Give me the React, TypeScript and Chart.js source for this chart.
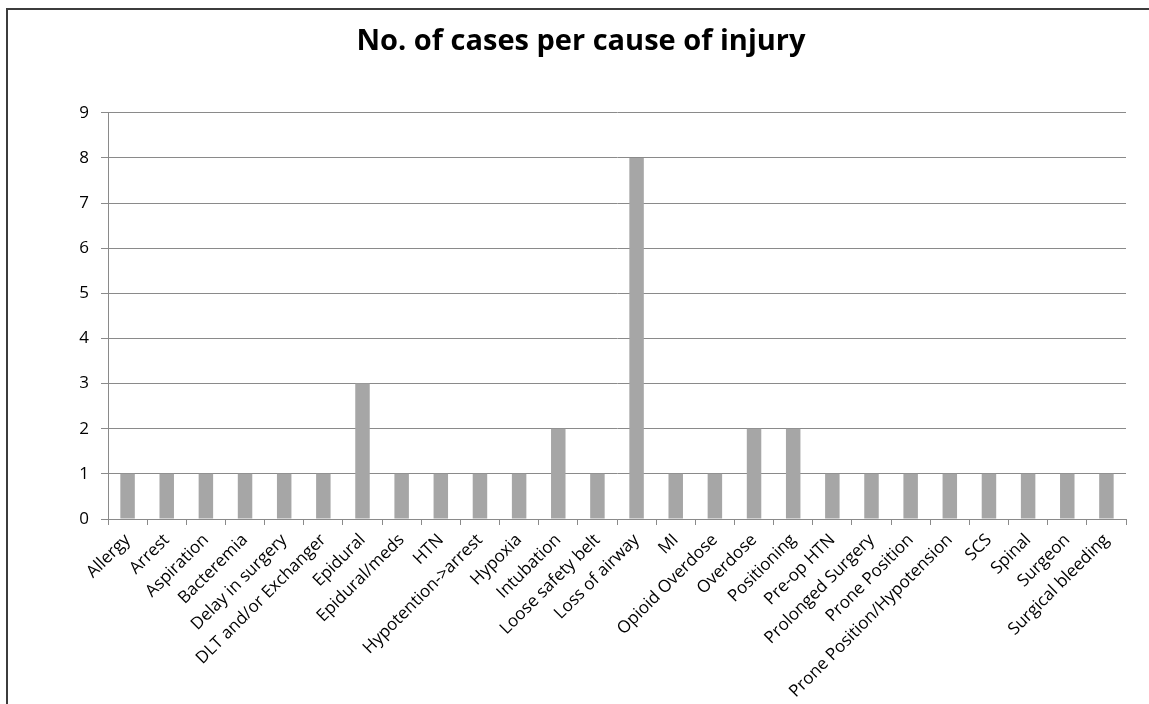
import React, { useEffect, useRef } from "react";
import { Chart, registerables } from "chart.js";

Chart.register(...registerables);

const categories: string[] = [
  "Allergy",
  "Arrest",
  "Aspiration",
  "Bacteremia",
  "Delay in surgery",
  "DLT and/or Exchanger",
  "Epidural",
  "Epidural/meds",
  "HTN",
  "Hypotention->arrest",
  "Hypoxia",
  "Intubation",
  "Loose safety belt",
  "Loss of airway",
  "MI",
  "Opioid Overdose",
  "Overdose",
  "Positioning",
  "Pre-op HTN",
  "Prolonged Surgery",
  "Prone Position",
  "Prone Position/Hypotension",
  "SCS",
  "Spinal",
  "Surgeon",
  "Surgical bleeding",
];

const cases: number[] = [1, 1, 1, 1, 1, 1, 3, 1, 1, 1, 1, 2, 1, 8, 1, 1, 2, 2, 1, 1, 1, 1, 1, 1, 1, 1];

const titleText = "No. of cases per cause of injury";
const yMin = 0;
const yMax = 9;
const yStep = 1;

const W = 1149;
const H = 704;

export default function App() {
  const ref = useRef<HTMLCanvasElement | null>(null);

  useEffect(() => {
    if (!ref.current) return;
    const font = "'Open Sans', 'DejaVu Sans', sans-serif";
    const chart = new Chart(ref.current, {
      type: "bar",
      data: {
        labels: categories,
        datasets: [
          {
            label: "Cases",
            data: cases,
            backgroundColor: "#a6a6a6",
            borderWidth: 0,
            barPercentage: 0.37,
            categoryPercentage: 1,
          },
        ],
      },
      options: {
        animation: false,
        responsive: false,
        layout: { padding: { left: 36, right: 23, top: 0, bottom: 0 } },
        plugins: {
          legend: { display: false },
          tooltip: { enabled: false },
          title: {
            display: true,
            text: titleText,
            color: "#000000",
            font: { family: font, size: 29, weight: "bold" },
            padding: { top: 24, bottom: 54 },
          },
        },
        scales: {
          x: {
            grid: {
              display: true,
              drawOnChartArea: false,
              drawTicks: true,
              tickLength: 6,
              color: "#8a8a8a",
              offset: true,
            },
            border: { display: true, color: "#8a8a8a", width: 1 },
            ticks: {
              color: "#000000",
              font: { family: font, size: 17 },
              minRotation: 45,
              maxRotation: 45,
              autoSkip: false,
              padding: 5,
            },
            afterFit: (scale: any) => {
              scale.height = 185;
            },
          },
          y: {
            min: yMin,
            max: yMax,
            grid: {
              color: "#8a8a8a",
              drawTicks: true,
              tickLength: 7,
            },
            border: { display: true, color: "#8a8a8a", width: 1 },
            ticks: {
              stepSize: yStep,
              color: "#000000",
              font: { family: font, size: 17 },
              padding: 12,
            },
            afterFit: (scale: any) => {
              scale.width = 72;
            },
          },
        },
      },
    });
    return () => chart.destroy();
  }, []);

  return (
    <div
      style={{
        position: "fixed",
        left: 0,
        top: 0,
        width: W,
        height: H,
        overflow: "hidden",
        background: "#ffffff",
      }}
    >
      <div
        style={{
          position: "absolute",
          left: 6,
          top: 8,
          width: 1300,
          height: 900,
          border: "2px solid #3c3c3c",
          boxSizing: "border-box",
        }}
      />
      <canvas
        ref={ref}
        width={W}
        height={H}
        style={{ position: "absolute", left: 0, top: 0, width: W, height: H }}
      />
    </div>
  );
}
